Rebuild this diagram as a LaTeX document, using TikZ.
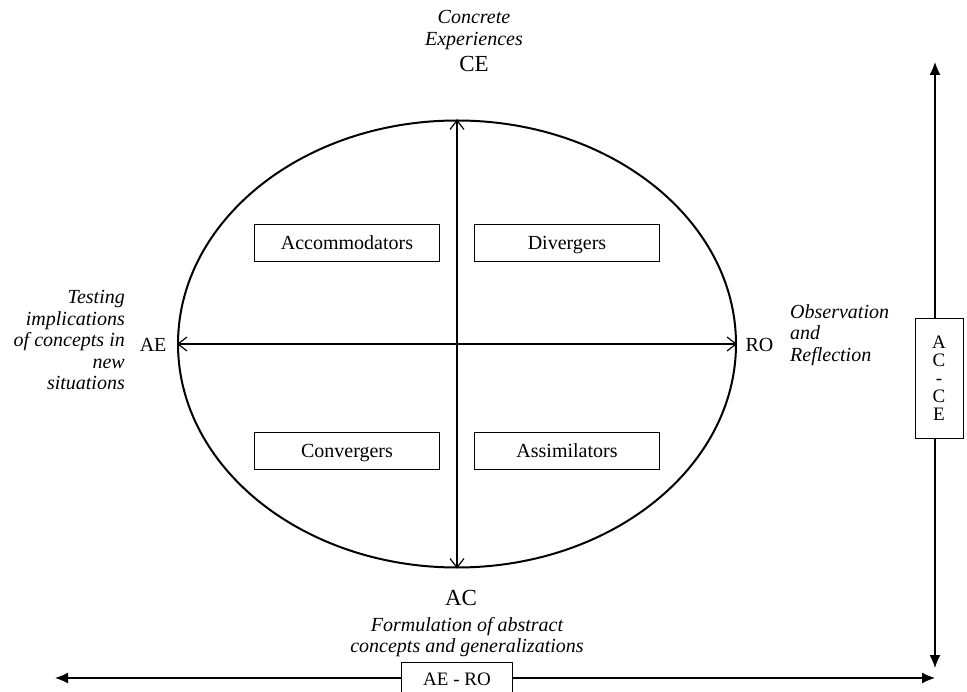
\documentclass[tikz,border=0pt]{standalone}
\usepackage{fontspec}
\setmainfont{Liberation Serif}
\usetikzlibrary{shapes.geometric, arrows.meta, positioning, calc}
\tikzset{
    style_box/.style={rectangle, draw, line width=1.1pt, minimum width=185pt, minimum height=37pt, text centered, text height=15pt, text depth=2pt, font=\fontsize{20}{22}\selectfont},
    axis_box/.style={rectangle, draw, line width=0.8pt, fill=white, text centered, font=\fontsize{19}{21}\selectfont},
    pole/.style={font=\fontsize{20}{22}\selectfont},
    note/.style={font=\fontsize{20}{21.5}\selectfont\itshape, inner sep=0pt},
    inner_arrow/.style={{Straight Barb[length=9pt, width=14pt]}-{Straight Barb[length=9pt, width=14pt]}, line width=1.2pt},
    outer_arrow/.style={{Latex[length=13pt, width=11pt]}-{Latex[length=13pt, width=11pt]}, line width=1.2pt}
}
\begin{document}
\begin{tikzpicture}[x=1pt, y=-1pt]
            \useasboundingbox (0,0) rectangle (967,692);
			\node (cycle) [draw, ellipse, line width=2pt, minimum width=558pt, minimum height=447pt, inner sep=0pt] at (457,344) {};

            % Axes inside the cycle
            \draw [inner_arrow] (cycle.north) -- (cycle.south);
            \draw [inner_arrow] (cycle.west) -- (cycle.east);

            % Learning styles
            \node (acc) [style_box] at (347,243) {Accommodators};
            \node (div) [style_box] at (567,243) {Divergers};
            \node (con) [style_box] at (347,451) {Convergers};
            \node (ass) [style_box] at (567,451) {Assimilators};

            % Poles and their descriptions
            \node (ce) [pole, font=\fontsize{23}{25}\selectfont] at (474,64) {CE};
            \node (ceText) [note, align=center] at (474,30) {Concrete\\Experiences};
            \node (ac) [pole, font=\fontsize{23}{25}\selectfont] at (461,598) {AC};
            \node (acText) [note, align=center] at (467,637) {Formulation of abstract\\concepts and generalizations};
            \node (ae) [pole, anchor=east] at (170,345) {AE};
            \node (aeText) [note, align=right, anchor=east] at (125,340) {Testing\\implications\\of concepts in\\new\\situations};
            \node (ro) [pole, anchor=west] at (742,345) {RO};
            \node (roText) [note, align=left, anchor=west] at (790,335) {Observation\\and\\Reflection};

            % Outer dimensions
            \coordinate (vTop) at (935,62);
            \coordinate (vBot) at (935,668);
            \coordinate (hLeft) at (55,678);
            \coordinate (hRight) at (935,678);
            \draw [outer_arrow] (vTop) -- (vBot);
            \draw [outer_arrow] (hLeft) -- (hRight);
            \node (acce) [axis_box, align=center, minimum width=48pt, minimum height=120pt, inner sep=2pt] at (939,378) {A\\[-3pt]C\\[-3pt]-\\[-3pt]C\\[-3pt]E};
            \node (aero) [axis_box, minimum width=111pt, minimum height=34pt] at (457,679) {AE - RO};
		\end{tikzpicture}
\end{document}
